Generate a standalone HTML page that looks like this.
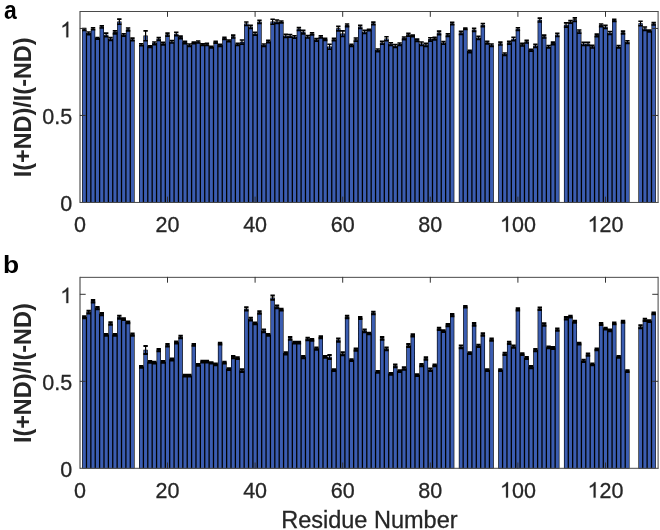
<!DOCTYPE html><html><head><meta charset="utf-8"><style>html,body{margin:0;padding:0;background:#fff;}body{width:660px;height:530px;overflow:hidden;}svg{display:block;}text{font-family:"Liberation Sans",sans-serif;}</style></head><body>
<svg width="660" height="530" viewBox="0 0 660 530" style="will-change:transform">
<rect x="0" y="0" width="660" height="530" fill="#fff"/>
<path d="M82.13 202.75L82.13 29.18L86.47 29.18L86.47 33.05L90.85 33.05L90.85 28.47L95.23 28.47L95.23 38.05L99.61 38.05L99.61 26.68L103.99 26.68L103.99 34.65L108.37 34.65L108.37 38.62L112.75 38.62L112.75 32.11L117.13 32.11L117.13 21.40L121.51 21.40L121.51 34.61L125.89 34.61L125.89 29.18L130.27 29.18L130.27 39.18L134.61 39.18L134.61 202.75ZM139.07 202.75L139.07 44.51L143.41 44.51L143.41 35.55L147.79 35.55L147.79 46.35L152.17 46.35L152.17 42.95L156.55 42.95L156.55 38.62L160.93 38.62L160.93 43.24L165.31 43.24L165.31 34.32L169.69 34.32L169.69 41.45L174.07 41.45L174.07 33.76L178.45 33.76L178.45 37.06L182.83 37.06L182.83 42.11L187.21 42.11L187.21 44.94L191.59 44.94L191.59 42.48L195.97 42.48L195.97 41.68L200.35 41.68L200.35 44.37L204.73 44.37L204.73 44.13L209.11 44.13L209.11 46.73L213.49 46.73L213.49 41.87L217.87 41.87L217.87 45.08L222.25 45.08L222.25 38.00L226.63 38.00L226.63 40.60L231.01 40.60L231.01 36.26L235.39 36.26L235.39 44.13L239.77 44.13L239.77 41.87L244.15 41.87L244.15 23.38L248.53 23.38L248.53 26.59L252.91 26.59L252.91 33.43L257.29 33.43L257.29 21.49L261.67 21.49L261.67 44.94L266.05 44.94L266.05 41.21L270.43 41.21L270.43 21.49L274.81 21.49L274.81 21.40L279.19 21.40L279.19 21.63L283.57 21.63L283.57 35.64L287.95 35.64L287.95 35.64L292.33 35.64L292.33 36.73L296.71 36.73L296.71 28.71L301.09 28.71L301.09 31.87L305.47 31.87L305.47 36.45L309.85 36.45L309.85 33.47L314.23 33.47L314.23 39.56L318.61 39.56L318.61 36.59L322.99 36.59L322.99 39.04L327.37 39.04L327.37 46.49L331.75 46.49L331.75 39.28L336.13 39.28L336.13 28.33L340.51 28.33L340.51 33.43L344.89 33.43L344.89 25.03L349.27 25.03L349.27 45.08L353.65 45.08L353.65 39.32L358.03 39.32L358.03 26.59L362.41 26.59L362.41 31.68L366.79 31.68L366.79 29.65L371.17 29.65L371.17 23.14L375.55 23.14L375.55 50.03L379.93 50.03L379.93 42.44L384.31 42.44L384.31 38.47L388.69 38.47L388.69 43.80L393.07 43.80L393.07 45.69L397.45 45.69L397.45 43.99L401.83 43.99L401.83 38.00L406.21 38.00L406.21 34.37L410.59 34.37L410.59 35.64L414.97 35.64L414.97 39.98L419.35 39.98L419.35 43.43L423.73 43.43L423.73 44.61L428.11 44.61L428.11 39.09L432.49 39.09L432.49 38.33L436.87 38.33L436.87 32.58L441.25 32.58L441.25 42.58L445.63 42.58L445.63 34.94L450.01 34.94L450.01 23.24L454.35 23.24L454.35 202.75ZM458.81 202.75L458.81 32.62L463.15 32.62L463.15 28.43L467.53 28.43L467.53 51.12L471.91 51.12L471.91 29.51L476.29 29.51L476.29 37.53L480.67 37.53L480.67 24.79L485.05 24.79L485.05 42.25L489.43 42.25L489.43 44.94L493.77 44.94L493.77 202.75ZM498.23 202.75L498.23 43.28L502.57 43.28L502.57 53.95L506.95 53.95L506.95 42.34L511.33 42.34L511.33 38.71L515.71 38.71L515.71 28.80L520.09 28.80L520.09 44.37L524.47 44.37L524.47 41.30L528.85 41.30L528.85 49.94L533.23 49.94L533.23 45.55L537.61 45.55L537.61 19.75L541.99 19.75L541.99 36.26L546.37 36.26L546.37 46.40L550.75 46.40L550.75 43.05L555.13 43.05L555.13 34.61L559.47 34.61L559.47 202.75ZM563.93 202.75L563.93 24.70L568.27 24.70L568.27 21.54L572.65 21.54L572.65 19.37L577.03 19.37L577.03 31.30L581.41 31.30L581.41 43.66L585.79 43.66L585.79 43.66L590.17 43.66L590.17 46.35L594.55 46.35L594.55 35.12L598.93 35.12L598.93 25.03L603.31 25.03L603.31 26.68L607.69 26.68L607.69 32.72L612.07 32.72L612.07 20.08L616.45 20.08L616.45 46.40L620.83 46.40L620.83 32.20L625.21 32.20L625.21 41.78L629.55 41.78L629.55 202.75ZM638.39 202.75L638.39 23.14L642.73 23.14L642.73 28.43L647.11 28.43L647.11 30.69L651.49 30.69L651.49 23.52L655.83 23.52L655.83 202.75Z" fill="#000"/>
<g fill="#3b5db1"><rect x="82.73" y="29.78" width="3.10" height="172.37"/><rect x="87.11" y="33.65" width="3.10" height="168.50"/><rect x="91.49" y="29.07" width="3.10" height="173.08"/><rect x="95.87" y="38.65" width="3.10" height="163.50"/><rect x="100.25" y="27.28" width="3.10" height="174.87"/><rect x="104.63" y="35.25" width="3.10" height="166.90"/><rect x="109.01" y="39.22" width="3.10" height="162.93"/><rect x="113.39" y="32.71" width="3.10" height="169.44"/><rect x="117.77" y="22.00" width="3.10" height="180.15"/><rect x="122.15" y="35.21" width="3.10" height="166.94"/><rect x="126.53" y="29.78" width="3.10" height="172.37"/><rect x="130.91" y="39.78" width="3.10" height="162.37"/><rect x="139.67" y="45.11" width="3.10" height="157.04"/><rect x="144.05" y="36.15" width="3.10" height="166.00"/><rect x="148.43" y="46.95" width="3.10" height="155.20"/><rect x="152.81" y="43.55" width="3.10" height="158.60"/><rect x="157.19" y="39.22" width="3.10" height="162.93"/><rect x="161.57" y="43.84" width="3.10" height="158.31"/><rect x="165.95" y="34.92" width="3.10" height="167.23"/><rect x="170.33" y="42.05" width="3.10" height="160.10"/><rect x="174.71" y="34.36" width="3.10" height="167.79"/><rect x="179.09" y="37.66" width="3.10" height="164.49"/><rect x="183.47" y="42.71" width="3.10" height="159.44"/><rect x="187.85" y="45.54" width="3.10" height="156.61"/><rect x="192.23" y="43.08" width="3.10" height="159.07"/><rect x="196.61" y="42.28" width="3.10" height="159.87"/><rect x="200.99" y="44.97" width="3.10" height="157.18"/><rect x="205.37" y="44.73" width="3.10" height="157.42"/><rect x="209.75" y="47.33" width="3.10" height="154.82"/><rect x="214.13" y="42.47" width="3.10" height="159.68"/><rect x="218.51" y="45.68" width="3.10" height="156.47"/><rect x="222.89" y="38.60" width="3.10" height="163.55"/><rect x="227.27" y="41.20" width="3.10" height="160.95"/><rect x="231.65" y="36.86" width="3.10" height="165.29"/><rect x="236.03" y="44.73" width="3.10" height="157.42"/><rect x="240.41" y="42.47" width="3.10" height="159.68"/><rect x="244.79" y="23.98" width="3.10" height="178.17"/><rect x="249.17" y="27.19" width="3.10" height="174.96"/><rect x="253.55" y="34.03" width="3.10" height="168.12"/><rect x="257.93" y="22.09" width="3.10" height="180.06"/><rect x="262.31" y="45.54" width="3.10" height="156.61"/><rect x="266.69" y="41.81" width="3.10" height="160.34"/><rect x="271.07" y="22.09" width="3.10" height="180.06"/><rect x="275.45" y="22.00" width="3.10" height="180.15"/><rect x="279.83" y="22.23" width="3.10" height="179.92"/><rect x="284.21" y="36.24" width="3.10" height="165.91"/><rect x="288.59" y="36.24" width="3.10" height="165.91"/><rect x="292.97" y="37.33" width="3.10" height="164.82"/><rect x="297.35" y="29.31" width="3.10" height="172.84"/><rect x="301.73" y="32.47" width="3.10" height="169.68"/><rect x="306.11" y="37.05" width="3.10" height="165.10"/><rect x="310.49" y="34.07" width="3.10" height="168.08"/><rect x="314.87" y="40.16" width="3.10" height="161.99"/><rect x="319.25" y="37.19" width="3.10" height="164.96"/><rect x="323.63" y="39.64" width="3.10" height="162.51"/><rect x="328.01" y="47.09" width="3.10" height="155.06"/><rect x="332.39" y="39.88" width="3.10" height="162.27"/><rect x="336.77" y="28.93" width="3.10" height="173.22"/><rect x="341.15" y="34.03" width="3.10" height="168.12"/><rect x="345.53" y="25.63" width="3.10" height="176.52"/><rect x="349.91" y="45.68" width="3.10" height="156.47"/><rect x="354.29" y="39.92" width="3.10" height="162.23"/><rect x="358.67" y="27.19" width="3.10" height="174.96"/><rect x="363.05" y="32.28" width="3.10" height="169.87"/><rect x="367.43" y="30.25" width="3.10" height="171.90"/><rect x="371.81" y="23.74" width="3.10" height="178.41"/><rect x="376.19" y="50.63" width="3.10" height="151.52"/><rect x="380.57" y="43.04" width="3.10" height="159.11"/><rect x="384.95" y="39.07" width="3.10" height="163.08"/><rect x="389.33" y="44.40" width="3.10" height="157.75"/><rect x="393.71" y="46.29" width="3.10" height="155.86"/><rect x="398.09" y="44.59" width="3.10" height="157.56"/><rect x="402.47" y="38.60" width="3.10" height="163.55"/><rect x="406.85" y="34.97" width="3.10" height="167.18"/><rect x="411.23" y="36.24" width="3.10" height="165.91"/><rect x="415.61" y="40.58" width="3.10" height="161.57"/><rect x="419.99" y="44.03" width="3.10" height="158.12"/><rect x="424.37" y="45.21" width="3.10" height="156.94"/><rect x="428.75" y="39.69" width="3.10" height="162.46"/><rect x="433.13" y="38.93" width="3.10" height="163.22"/><rect x="437.51" y="33.18" width="3.10" height="168.97"/><rect x="441.89" y="43.18" width="3.10" height="158.97"/><rect x="446.27" y="35.54" width="3.10" height="166.61"/><rect x="450.65" y="23.84" width="3.10" height="178.31"/><rect x="459.41" y="33.22" width="3.10" height="168.93"/><rect x="463.79" y="29.03" width="3.10" height="173.12"/><rect x="468.17" y="51.72" width="3.10" height="150.43"/><rect x="472.55" y="30.11" width="3.10" height="172.04"/><rect x="476.93" y="38.13" width="3.10" height="164.02"/><rect x="481.31" y="25.39" width="3.10" height="176.76"/><rect x="485.69" y="42.85" width="3.10" height="159.30"/><rect x="490.07" y="45.54" width="3.10" height="156.61"/><rect x="498.83" y="43.88" width="3.10" height="158.27"/><rect x="503.21" y="54.55" width="3.10" height="147.60"/><rect x="507.59" y="42.94" width="3.10" height="159.21"/><rect x="511.97" y="39.31" width="3.10" height="162.84"/><rect x="516.35" y="29.40" width="3.10" height="172.75"/><rect x="520.73" y="44.97" width="3.10" height="157.18"/><rect x="525.11" y="41.90" width="3.10" height="160.25"/><rect x="529.49" y="50.54" width="3.10" height="151.61"/><rect x="533.87" y="46.15" width="3.10" height="156.00"/><rect x="538.25" y="20.35" width="3.10" height="181.80"/><rect x="542.63" y="36.86" width="3.10" height="165.29"/><rect x="547.01" y="47.00" width="3.10" height="155.15"/><rect x="551.39" y="43.65" width="3.10" height="158.50"/><rect x="555.77" y="35.21" width="3.10" height="166.94"/><rect x="564.53" y="25.30" width="3.10" height="176.85"/><rect x="568.91" y="22.14" width="3.10" height="180.01"/><rect x="573.29" y="19.97" width="3.10" height="182.18"/><rect x="577.67" y="31.90" width="3.10" height="170.25"/><rect x="582.05" y="44.26" width="3.10" height="157.89"/><rect x="586.43" y="44.26" width="3.10" height="157.89"/><rect x="590.81" y="46.95" width="3.10" height="155.20"/><rect x="595.19" y="35.72" width="3.10" height="166.43"/><rect x="599.57" y="25.63" width="3.10" height="176.52"/><rect x="603.95" y="27.28" width="3.10" height="174.87"/><rect x="608.33" y="33.32" width="3.10" height="168.83"/><rect x="612.71" y="20.68" width="3.10" height="181.47"/><rect x="617.09" y="47.00" width="3.10" height="155.15"/><rect x="621.47" y="32.80" width="3.10" height="169.35"/><rect x="625.85" y="42.38" width="3.10" height="159.77"/><rect x="638.99" y="23.74" width="3.10" height="178.41"/><rect x="643.37" y="29.03" width="3.10" height="173.12"/><rect x="647.75" y="31.29" width="3.10" height="170.86"/><rect x="652.13" y="24.12" width="3.10" height="178.03"/></g>
<path d="M82.08 28.54H86.48M82.08 30.43H86.48M86.46 32.03H90.86M86.46 34.67H90.86M90.84 27.78H95.24M90.84 29.77H95.24M95.22 37.50H99.62M95.22 39.20H99.62M99.60 25.89H104.00M99.60 28.07H104.00M103.98 33.16H108.38M103.98 36.75H108.38M108.36 37.50H112.76M108.36 40.33H112.76M112.74 30.89H117.14M112.74 33.92H117.14M117.12 19.10H121.52M117.12 24.29H121.52M121.50 33.72H125.90M121.50 36.09H125.90M125.88 28.06H130.28M125.88 30.90H130.28M130.26 38.16H134.66M130.26 40.80H134.66M139.02 43.82H143.42M139.02 45.80H143.42M143.40 30.89H147.80M143.40 40.80H147.80M147.78 45.89H152.18M147.78 47.41H152.18M152.16 41.93H156.56M152.16 44.58H156.56M156.54 37.50H160.94M156.54 40.33H160.94M160.92 42.22H165.32M160.92 44.86H165.32M165.30 33.16H169.70M165.30 36.09H169.70M169.68 40.52H174.08M169.68 42.97H174.08M174.06 32.31H178.46M174.06 35.80H178.46M178.44 36.08H182.84M178.44 38.63H182.84M182.82 41.18H187.22M182.82 43.63H187.22M187.20 44.01H191.60M187.20 46.46H191.60M191.58 41.93H195.98M191.58 43.63H195.98M195.96 40.99H200.36M195.96 42.97H200.36M200.34 43.82H204.74M200.34 45.52H204.74M204.72 43.35H209.12M204.72 45.52H209.12M209.10 46.18H213.50M209.10 47.88H213.50M213.48 41.18H217.88M213.48 43.16H217.88M217.86 44.29H222.26M217.86 46.46H222.26M222.24 37.22H226.64M222.24 39.39H226.64M226.62 40.05H231.02M226.62 41.75H231.02M231.00 35.14H235.40M231.00 37.97H235.40M235.38 43.35H239.78M235.38 45.52H239.78M239.76 40.05H244.16M239.76 44.29H244.16M244.14 21.93H248.54M244.14 25.43H248.54M248.52 25.23H252.92M248.52 28.54H252.92M252.90 32.31H257.30M252.90 35.14H257.30M257.28 20.23H261.68M257.28 23.35H261.68M261.66 44.01H266.06M261.66 46.46H266.06M266.04 40.33H270.44M266.04 42.69H270.44M270.42 19.29H274.82M270.42 24.29H274.82M274.80 20.05H279.20M274.80 23.35H279.20M279.18 20.99H283.58M279.18 22.88H283.58M283.56 34.38H287.96M283.56 37.50H287.96M287.94 34.57H292.34M287.94 37.31H292.34M292.32 35.80H296.72M292.32 38.26H296.72M296.70 27.59H301.10M296.70 30.43H301.10M301.08 30.42H305.48M301.08 33.92H305.48M305.46 35.52H309.86M305.46 37.97H309.86M309.84 32.69H314.24M309.84 34.86H314.24M314.22 38.63H318.62M314.22 41.09H318.62M318.60 35.80H323.00M318.60 37.97H323.00M322.98 38.35H327.38M322.98 40.33H327.38M327.36 44.29H331.76M327.36 49.29H331.76M331.74 38.35H336.14M331.74 40.80H336.14M336.12 26.37H340.52M336.12 30.90H340.52M340.50 30.89H344.90M340.50 36.56H344.90M344.88 24.01H349.28M344.88 26.65H349.28M349.26 44.29H353.66M349.26 46.46H353.66M353.64 37.97H358.04M353.64 41.28H358.04M358.02 25.23H362.42M358.02 28.54H362.42M362.40 30.42H366.80M362.40 33.54H366.80M366.78 29.20H371.18M366.78 30.71H371.18M371.16 22.12H375.56M371.16 24.77H375.56M375.54 49.01H379.94M375.54 51.65H379.94M379.92 41.18H384.32M379.92 44.29H384.32M384.30 36.74H388.70M384.30 40.80H388.70M388.68 42.69H393.08M388.68 45.52H393.08M393.06 44.57H397.46M393.06 47.41H397.46M397.44 43.06H401.84M397.44 45.52H401.84M401.82 37.03H406.22M401.82 39.58H406.22M406.20 33.25H410.60M406.20 36.09H410.60M410.58 35.14H414.98M410.58 36.75H414.98M414.96 39.10H419.36M414.96 41.46H419.36M419.34 41.93H423.74M419.34 45.52H423.74M423.72 43.35H428.12M423.72 46.46H428.12M428.10 37.69H432.50M428.10 41.09H432.50M432.48 37.40H436.88M432.48 39.86H436.88M436.86 31.08H441.26M436.86 34.67H441.26M441.24 41.46H445.64M441.24 44.29H445.64M445.62 33.91H450.02M445.62 36.56H450.02M450.00 22.31H454.40M450.00 24.77H454.40M458.76 31.37H463.16M458.76 34.48H463.16M463.14 27.97H467.54M463.14 29.48H467.54M467.52 50.23H471.92M467.52 52.60H471.92M471.90 28.25H476.30M471.90 31.37H476.30M476.28 36.27H480.68M476.28 39.39H480.68M480.66 23.54H485.06M480.66 26.65H485.06M485.04 41.18H489.44M485.04 43.92H489.44M489.42 44.01H493.82M489.42 46.46H493.82M498.18 42.12H502.58M498.18 45.05H502.58M502.56 53.06H506.96M502.56 55.43H506.96M506.94 41.18H511.34M506.94 44.11H511.34M511.32 37.22H515.72M511.32 40.80H515.72M515.70 27.78H520.10M515.70 30.43H520.10M520.08 43.35H524.48M520.08 45.99H524.48M524.46 40.23H528.86M524.46 42.97H528.86M528.84 49.29H533.24M528.84 51.18H533.24M533.22 44.29H537.62M533.22 47.41H537.62M537.60 18.16H542.00M537.60 21.94H542.00M541.98 35.14H546.38M541.98 37.97H546.38M546.36 45.52H550.76M546.36 47.88H550.76M550.74 42.12H555.14M550.74 44.58H555.14M555.12 33.25H559.52M555.12 36.56H559.52M563.88 22.88H568.28M563.88 27.12H568.28M568.26 20.52H572.66M568.26 23.16H572.66M572.64 17.88H577.04M572.64 21.46H577.04M577.02 29.95H581.42M577.02 33.26H581.42M581.40 42.40H585.80M581.40 45.52H585.80M585.78 42.40H590.18M585.78 45.52H590.18M590.16 45.23H594.56M590.16 48.07H594.56M594.54 34.10H598.94M594.54 36.75H598.94M598.92 24.01H603.32M598.92 26.65H603.32M603.30 25.42H607.70M603.30 28.54H607.70M607.68 31.55H612.08M607.68 34.48H612.08M612.06 19.29H616.46M612.06 21.46H616.46M616.44 45.52H620.84M616.44 47.88H620.84M620.82 31.08H625.22M620.82 33.92H625.22M625.20 40.80H629.60M625.20 43.35H629.60M638.34 21.18H642.74M638.34 25.71H642.74M642.72 27.03H647.12M642.72 30.43H647.12M647.10 30.14H651.50M647.10 31.84H651.50M651.48 22.59H655.88M651.48 25.05H655.88" stroke="#000" stroke-width="1.6" fill="none"/>
<path d="M84.28 28.54V30.43M88.66 32.03V34.67M93.04 27.78V29.77M97.42 37.50V39.20M101.80 25.89V28.07M106.18 33.16V36.75M110.56 37.50V40.33M114.94 30.89V33.92M119.32 19.10V24.29M123.70 33.72V36.09M128.08 28.06V30.90M132.46 38.16V40.80M141.22 43.82V45.80M145.60 30.89V40.80M149.98 45.89V47.41M154.36 41.93V44.58M158.74 37.50V40.33M163.12 42.22V44.86M167.50 33.16V36.09M171.88 40.52V42.97M176.26 32.31V35.80M180.64 36.08V38.63M185.02 41.18V43.63M189.40 44.01V46.46M193.78 41.93V43.63M198.16 40.99V42.97M202.54 43.82V45.52M206.92 43.35V45.52M211.30 46.18V47.88M215.68 41.18V43.16M220.06 44.29V46.46M224.44 37.22V39.39M228.82 40.05V41.75M233.20 35.14V37.97M237.58 43.35V45.52M241.96 40.05V44.29M246.34 21.93V25.43M250.72 25.23V28.54M255.10 32.31V35.14M259.48 20.23V23.35M263.86 44.01V46.46M268.24 40.33V42.69M272.62 19.29V24.29M277.00 20.05V23.35M281.38 20.99V22.88M285.76 34.38V37.50M290.14 34.57V37.31M294.52 35.80V38.26M298.90 27.59V30.43M303.28 30.42V33.92M307.66 35.52V37.97M312.04 32.69V34.86M316.42 38.63V41.09M320.80 35.80V37.97M325.18 38.35V40.33M329.56 44.29V49.29M333.94 38.35V40.80M338.32 26.37V30.90M342.70 30.89V36.56M347.08 24.01V26.65M351.46 44.29V46.46M355.84 37.97V41.28M360.22 25.23V28.54M364.60 30.42V33.54M368.98 29.20V30.71M373.36 22.12V24.77M377.74 49.01V51.65M382.12 41.18V44.29M386.50 36.74V40.80M390.88 42.69V45.52M395.26 44.57V47.41M399.64 43.06V45.52M404.02 37.03V39.58M408.40 33.25V36.09M412.78 35.14V36.75M417.16 39.10V41.46M421.54 41.93V45.52M425.92 43.35V46.46M430.30 37.69V41.09M434.68 37.40V39.86M439.06 31.08V34.67M443.44 41.46V44.29M447.82 33.91V36.56M452.20 22.31V24.77M460.96 31.37V34.48M465.34 27.97V29.48M469.72 50.23V52.60M474.10 28.25V31.37M478.48 36.27V39.39M482.86 23.54V26.65M487.24 41.18V43.92M491.62 44.01V46.46M500.38 42.12V45.05M504.76 53.06V55.43M509.14 41.18V44.11M513.52 37.22V40.80M517.90 27.78V30.43M522.28 43.35V45.99M526.66 40.23V42.97M531.04 49.29V51.18M535.42 44.29V47.41M539.80 18.16V21.94M544.18 35.14V37.97M548.56 45.52V47.88M552.94 42.12V44.58M557.32 33.25V36.56M566.08 22.88V27.12M570.46 20.52V23.16M574.84 17.88V21.46M579.22 29.95V33.26M583.60 42.40V45.52M587.98 42.40V45.52M592.36 45.23V48.07M596.74 34.10V36.75M601.12 24.01V26.65M605.50 25.42V28.54M609.88 31.55V34.48M614.26 19.29V21.46M618.64 45.52V47.88M623.02 31.08V33.92M627.40 40.80V43.35M640.54 21.18V25.71M644.92 27.03V30.43M649.30 30.14V31.84M653.68 22.59V25.05" stroke="#000" stroke-width="1.2" fill="none"/>
<path d="M80 11.00V202.95" stroke="#333" stroke-width="1"/>
<path d="M658.1 11.00V202.95" stroke="#444" stroke-width="1"/>
<path d="M80 11.50H658.3M80 202.45H658.3" stroke="#4a4a4a" stroke-width="1"/>
<path d="M167.50 202.45V196.65M167.50 11.05V16.85M255.10 202.45V196.65M255.10 11.05V16.85M342.70 202.45V196.65M342.70 11.05V16.85M430.30 202.45V196.65M430.30 11.05V16.85M517.90 202.45V196.65M517.90 11.05V16.85M605.50 202.45V196.65M605.50 11.05V16.85M79.90 115.45H85.70M658.06 115.45H652.26M79.90 28.45H85.70M658.06 28.45H652.26" stroke="#333" stroke-width="1" fill="none"/>
<text x="73.92" y="231.75" font-size="21.5" fill="#262626" stroke="#262626" stroke-width="0.3">0</text>
<text x="155.54" y="231.75" font-size="21.5" fill="#262626" stroke="#262626" stroke-width="0.3">2</text>
<text x="167.50" y="231.75" font-size="21.5" fill="#262626" stroke="#262626" stroke-width="0.3">0</text>
<text x="243.14" y="231.75" font-size="21.5" fill="#262626" stroke="#262626" stroke-width="0.3">4</text>
<text x="255.10" y="231.75" font-size="21.5" fill="#262626" stroke="#262626" stroke-width="0.3">0</text>
<text x="330.74" y="231.75" font-size="21.5" fill="#262626" stroke="#262626" stroke-width="0.3">6</text>
<text x="342.70" y="231.75" font-size="21.5" fill="#262626" stroke="#262626" stroke-width="0.3">0</text>
<text x="418.34" y="231.75" font-size="21.5" fill="#262626" stroke="#262626" stroke-width="0.3">8</text>
<text x="430.30" y="231.75" font-size="21.5" fill="#262626" stroke="#262626" stroke-width="0.3">0</text>
<path transform="translate(499.96 231.75) scale(0.01050 -0.01050)" d="M763 0H583V1147Q518 1085 412.5 1023T223 930V1104Q373 1175 485.5 1276T645 1472H763V0Z" fill="#262626" stroke="#262626" stroke-width="28.6"/>
<text x="511.92" y="231.75" font-size="21.5" fill="#262626" stroke="#262626" stroke-width="0.3">0</text>
<text x="523.88" y="231.75" font-size="21.5" fill="#262626" stroke="#262626" stroke-width="0.3">0</text>
<path transform="translate(587.56 231.75) scale(0.01050 -0.01050)" d="M763 0H583V1147Q518 1085 412.5 1023T223 930V1104Q373 1175 485.5 1276T645 1472H763V0Z" fill="#262626" stroke="#262626" stroke-width="28.6"/>
<text x="599.52" y="231.75" font-size="21.5" fill="#262626" stroke="#262626" stroke-width="0.3">2</text>
<text x="611.48" y="231.75" font-size="21.5" fill="#262626" stroke="#262626" stroke-width="0.3">0</text>
<text x="60.24" y="211.25" font-size="21.5" fill="#262626" stroke="#262626" stroke-width="0.3">0</text>
<text x="42.31" y="124.25" font-size="21.5" fill="#262626" stroke="#262626" stroke-width="0.3">0</text>
<text x="54.27" y="124.25" font-size="21.5" fill="#262626" stroke="#262626" stroke-width="0.3">.</text>
<text x="60.24" y="124.25" font-size="21.5" fill="#262626" stroke="#262626" stroke-width="0.3">5</text>
<path transform="translate(60.24 37.25) scale(0.01050 -0.01050)" d="M763 0H583V1147Q518 1085 412.5 1023T223 930V1104Q373 1175 485.5 1276T645 1472H763V0Z" fill="#262626" stroke="#262626" stroke-width="28.6"/>
<text transform="translate(31.2 107.35) rotate(-90) scale(1.01 1)" x="0" y="0" font-size="23.2" font-weight="bold" fill="#262626" text-anchor="middle">I(+ND)/I(-ND)</text>
<text transform="translate(4.03 18.65) scale(0.9 1)" x="0" y="0" font-size="25.5" font-weight="bold" fill="#000">a</text>
<path d="M82.13 468.60L82.13 316.95L86.47 316.95L86.47 311.76L90.85 311.76L90.85 300.91L95.23 300.91L95.23 307.79L99.61 307.79L99.61 313.83L103.99 313.83L103.99 334.49L108.37 334.49L108.37 323.17L112.75 323.17L112.75 334.49L117.13 334.49L117.13 316.95L121.51 316.95L121.51 318.83L125.89 318.83L125.89 322.04L130.27 322.04L130.27 334.30L134.61 334.30L134.61 468.60ZM139.07 468.60L139.07 366.57L143.41 366.57L143.41 349.68L147.79 349.68L147.79 361.66L152.17 361.66L152.17 362.23L156.55 362.23L156.55 349.78L160.93 349.78L160.93 361.66L165.31 361.66L165.31 344.96L169.69 344.96L169.69 359.21L174.07 359.21L174.07 342.23L178.45 342.23L178.45 336.76L182.83 336.76L182.83 375.44L187.21 375.44L187.21 375.44L191.59 375.44L191.59 344.68L195.97 344.68L195.97 364.68L200.35 364.68L200.35 361.28L204.73 361.28L204.73 361.28L209.11 361.28L209.11 362.51L213.49 362.51L213.49 364.12L217.87 364.12L217.87 343.36L222.25 343.36L222.25 362.23L226.63 362.23L226.63 368.83L231.01 368.83L231.01 356.85L235.39 356.85L235.39 357.89L239.77 357.89L239.77 370.25L244.15 370.25L244.15 308.64L248.53 308.64L248.53 318.83L252.91 318.83L252.91 323.17L257.29 323.17L257.29 312.23L261.67 312.23L261.67 330.62L266.05 330.62L266.05 334.49L270.43 334.49L270.43 297.42L274.81 297.42L274.81 306.57L279.19 306.57L279.19 309.40L283.57 309.40L283.57 353.08L287.95 353.08L287.95 338.17L292.33 338.17L292.33 342.42L296.71 342.42L296.71 342.42L301.09 342.42L301.09 356.85L305.47 356.85L305.47 338.64L309.85 338.64L309.85 339.59L314.23 339.59L314.23 348.27L318.61 348.27L318.61 336.95L322.99 336.95L322.99 356.57L327.37 356.57L327.37 356.76L331.75 356.76L331.75 369.78L336.13 369.78L336.13 339.78L340.51 339.78L340.51 353.45L344.89 353.45L344.89 316.66L349.27 316.66L349.27 359.78L353.65 359.78L353.65 349.30L358.03 349.30L358.03 317.70L362.41 317.70L362.41 330.62L366.79 330.62L366.79 333.17L371.17 333.17L371.17 312.70L375.55 312.70L375.55 371.66L379.93 371.66L379.93 338.17L384.31 338.17L384.31 348.55L388.69 348.55L388.69 373.55L393.07 373.55L393.07 365.53L397.45 365.53L397.45 370.72L401.83 370.72L401.83 368.17L406.21 368.17L406.21 345.25L410.59 345.25L410.59 335.06L414.97 335.06L414.97 374.87L419.35 374.87L419.35 364.87L423.73 364.87L423.73 358.17L428.11 358.17L428.11 369.49L432.49 369.49L432.49 365.06L436.87 365.06L436.87 328.55L441.25 328.55L441.25 330.72L445.63 330.72L445.63 324.78L450.01 324.78L450.01 314.78L454.35 314.78L454.35 468.60ZM458.81 468.60L458.81 346.66L463.15 346.66L463.15 306.38L467.53 306.38L467.53 352.79L471.91 352.79L471.91 324.02L476.29 324.02L476.29 345.53L480.67 345.53L480.67 334.21L485.05 334.21L485.05 369.78L489.43 369.78L489.43 339.30L493.77 339.30L493.77 468.60ZM498.23 468.60L498.23 369.78L502.57 369.78L502.57 353.55L506.95 353.55L506.95 342.61L511.33 342.61L511.33 346.38L515.71 346.38L515.71 309.12L520.09 309.12L520.09 353.74L524.47 353.74L524.47 357.70L528.85 357.70L528.85 366.76L533.23 366.76L533.23 349.78L537.61 349.78L537.61 308.45L541.99 308.45L541.99 324.21L546.37 324.21L546.37 347.13L550.75 347.13L550.75 347.70L555.13 347.70L555.13 329.40L559.47 329.40L559.47 468.60ZM563.93 468.60L563.93 317.89L568.27 317.89L568.27 316.38L572.65 316.38L572.65 321.47L577.03 321.47L577.03 343.36L581.41 343.36L581.41 360.62L585.79 360.62L585.79 354.40L590.17 354.40L590.17 364.12L594.55 364.12L594.55 349.02L598.93 349.02L598.93 323.74L603.31 323.74L603.31 328.27L607.69 328.27L607.69 330.15L612.07 330.15L612.07 323.17L616.45 323.17L616.45 356.57L620.83 356.57L620.83 321.47L625.21 321.47L625.21 370.72L629.55 370.72L629.55 468.60ZM638.39 468.60L638.39 326.38L642.73 326.38L642.73 319.59L647.11 319.59L647.11 320.72L651.49 320.72L651.49 313.17L655.83 313.17L655.83 468.60Z" fill="#000"/>
<g fill="#3b5db1"><rect x="82.73" y="317.55" width="3.10" height="150.45"/><rect x="87.11" y="312.36" width="3.10" height="155.64"/><rect x="91.49" y="301.51" width="3.10" height="166.49"/><rect x="95.87" y="308.39" width="3.10" height="159.61"/><rect x="100.25" y="314.43" width="3.10" height="153.57"/><rect x="104.63" y="335.09" width="3.10" height="132.91"/><rect x="109.01" y="323.77" width="3.10" height="144.23"/><rect x="113.39" y="335.09" width="3.10" height="132.91"/><rect x="117.77" y="317.55" width="3.10" height="150.45"/><rect x="122.15" y="319.43" width="3.10" height="148.57"/><rect x="126.53" y="322.64" width="3.10" height="145.36"/><rect x="130.91" y="334.90" width="3.10" height="133.10"/><rect x="139.67" y="367.17" width="3.10" height="100.83"/><rect x="144.05" y="350.28" width="3.10" height="117.72"/><rect x="148.43" y="362.26" width="3.10" height="105.74"/><rect x="152.81" y="362.83" width="3.10" height="105.17"/><rect x="157.19" y="350.38" width="3.10" height="117.62"/><rect x="161.57" y="362.26" width="3.10" height="105.74"/><rect x="165.95" y="345.56" width="3.10" height="122.44"/><rect x="170.33" y="359.81" width="3.10" height="108.19"/><rect x="174.71" y="342.83" width="3.10" height="125.17"/><rect x="179.09" y="337.36" width="3.10" height="130.64"/><rect x="183.47" y="376.04" width="3.10" height="91.96"/><rect x="187.85" y="376.04" width="3.10" height="91.96"/><rect x="192.23" y="345.28" width="3.10" height="122.72"/><rect x="196.61" y="365.28" width="3.10" height="102.72"/><rect x="200.99" y="361.88" width="3.10" height="106.12"/><rect x="205.37" y="361.88" width="3.10" height="106.12"/><rect x="209.75" y="363.11" width="3.10" height="104.89"/><rect x="214.13" y="364.72" width="3.10" height="103.28"/><rect x="218.51" y="343.96" width="3.10" height="124.04"/><rect x="222.89" y="362.83" width="3.10" height="105.17"/><rect x="227.27" y="369.43" width="3.10" height="98.57"/><rect x="231.65" y="357.45" width="3.10" height="110.55"/><rect x="236.03" y="358.49" width="3.10" height="109.51"/><rect x="240.41" y="370.85" width="3.10" height="97.15"/><rect x="244.79" y="309.24" width="3.10" height="158.76"/><rect x="249.17" y="319.43" width="3.10" height="148.57"/><rect x="253.55" y="323.77" width="3.10" height="144.23"/><rect x="257.93" y="312.83" width="3.10" height="155.17"/><rect x="262.31" y="331.22" width="3.10" height="136.78"/><rect x="266.69" y="335.09" width="3.10" height="132.91"/><rect x="271.07" y="298.02" width="3.10" height="169.98"/><rect x="275.45" y="307.17" width="3.10" height="160.83"/><rect x="279.83" y="310.00" width="3.10" height="158.00"/><rect x="284.21" y="353.68" width="3.10" height="114.32"/><rect x="288.59" y="338.77" width="3.10" height="129.23"/><rect x="292.97" y="343.02" width="3.10" height="124.98"/><rect x="297.35" y="343.02" width="3.10" height="124.98"/><rect x="301.73" y="357.45" width="3.10" height="110.55"/><rect x="306.11" y="339.24" width="3.10" height="128.76"/><rect x="310.49" y="340.19" width="3.10" height="127.81"/><rect x="314.87" y="348.87" width="3.10" height="119.13"/><rect x="319.25" y="337.55" width="3.10" height="130.45"/><rect x="323.63" y="357.17" width="3.10" height="110.83"/><rect x="328.01" y="357.36" width="3.10" height="110.64"/><rect x="332.39" y="370.38" width="3.10" height="97.62"/><rect x="336.77" y="340.38" width="3.10" height="127.62"/><rect x="341.15" y="354.05" width="3.10" height="113.95"/><rect x="345.53" y="317.26" width="3.10" height="150.74"/><rect x="349.91" y="360.38" width="3.10" height="107.62"/><rect x="354.29" y="349.90" width="3.10" height="118.10"/><rect x="358.67" y="318.30" width="3.10" height="149.70"/><rect x="363.05" y="331.22" width="3.10" height="136.78"/><rect x="367.43" y="333.77" width="3.10" height="134.23"/><rect x="371.81" y="313.30" width="3.10" height="154.70"/><rect x="376.19" y="372.26" width="3.10" height="95.74"/><rect x="380.57" y="338.77" width="3.10" height="129.23"/><rect x="384.95" y="349.15" width="3.10" height="118.85"/><rect x="389.33" y="374.15" width="3.10" height="93.85"/><rect x="393.71" y="366.13" width="3.10" height="101.87"/><rect x="398.09" y="371.32" width="3.10" height="96.68"/><rect x="402.47" y="368.77" width="3.10" height="99.23"/><rect x="406.85" y="345.85" width="3.10" height="122.15"/><rect x="411.23" y="335.66" width="3.10" height="132.34"/><rect x="415.61" y="375.47" width="3.10" height="92.53"/><rect x="419.99" y="365.47" width="3.10" height="102.53"/><rect x="424.37" y="358.77" width="3.10" height="109.23"/><rect x="428.75" y="370.09" width="3.10" height="97.91"/><rect x="433.13" y="365.66" width="3.10" height="102.34"/><rect x="437.51" y="329.15" width="3.10" height="138.85"/><rect x="441.89" y="331.32" width="3.10" height="136.68"/><rect x="446.27" y="325.38" width="3.10" height="142.62"/><rect x="450.65" y="315.38" width="3.10" height="152.62"/><rect x="459.41" y="347.26" width="3.10" height="120.74"/><rect x="463.79" y="306.98" width="3.10" height="161.02"/><rect x="468.17" y="353.39" width="3.10" height="114.61"/><rect x="472.55" y="324.62" width="3.10" height="143.38"/><rect x="476.93" y="346.13" width="3.10" height="121.87"/><rect x="481.31" y="334.81" width="3.10" height="133.19"/><rect x="485.69" y="370.38" width="3.10" height="97.62"/><rect x="490.07" y="339.90" width="3.10" height="128.10"/><rect x="498.83" y="370.38" width="3.10" height="97.62"/><rect x="503.21" y="354.15" width="3.10" height="113.85"/><rect x="507.59" y="343.21" width="3.10" height="124.79"/><rect x="511.97" y="346.98" width="3.10" height="121.02"/><rect x="516.35" y="309.72" width="3.10" height="158.28"/><rect x="520.73" y="354.34" width="3.10" height="113.66"/><rect x="525.11" y="358.30" width="3.10" height="109.70"/><rect x="529.49" y="367.36" width="3.10" height="100.64"/><rect x="533.87" y="350.38" width="3.10" height="117.62"/><rect x="538.25" y="309.05" width="3.10" height="158.95"/><rect x="542.63" y="324.81" width="3.10" height="143.19"/><rect x="547.01" y="347.73" width="3.10" height="120.27"/><rect x="551.39" y="348.30" width="3.10" height="119.70"/><rect x="555.77" y="330.00" width="3.10" height="138.00"/><rect x="564.53" y="318.49" width="3.10" height="149.51"/><rect x="568.91" y="316.98" width="3.10" height="151.02"/><rect x="573.29" y="322.07" width="3.10" height="145.93"/><rect x="577.67" y="343.96" width="3.10" height="124.04"/><rect x="582.05" y="361.22" width="3.10" height="106.78"/><rect x="586.43" y="355.00" width="3.10" height="113.00"/><rect x="590.81" y="364.72" width="3.10" height="103.28"/><rect x="595.19" y="349.62" width="3.10" height="118.38"/><rect x="599.57" y="324.34" width="3.10" height="143.66"/><rect x="603.95" y="328.87" width="3.10" height="139.13"/><rect x="608.33" y="330.75" width="3.10" height="137.25"/><rect x="612.71" y="323.77" width="3.10" height="144.23"/><rect x="617.09" y="357.17" width="3.10" height="110.83"/><rect x="621.47" y="322.07" width="3.10" height="145.93"/><rect x="625.85" y="371.32" width="3.10" height="96.68"/><rect x="638.99" y="326.98" width="3.10" height="141.02"/><rect x="643.37" y="320.19" width="3.10" height="147.81"/><rect x="647.75" y="321.32" width="3.10" height="146.68"/><rect x="652.13" y="313.77" width="3.10" height="154.23"/></g>
<path d="M82.08 316.36H86.48M82.08 318.13H86.48M86.46 310.70H90.86M86.46 313.42H90.86M90.84 299.94H95.24M90.84 302.47H95.24M95.22 306.92H99.62M95.22 309.26H99.62M99.60 312.96H104.00M99.60 315.30H104.00M103.98 333.91H108.38M103.98 335.68H108.38M108.36 322.21H112.76M108.36 324.74H112.76M112.74 333.91H117.14M112.74 335.68H117.14M117.12 315.79H121.52M117.12 318.70H121.52M121.50 318.25H125.90M121.50 320.02H125.90M125.88 321.45H130.28M125.88 323.23H130.28M130.26 333.53H134.66M130.26 335.68H134.66M139.02 365.98H143.42M139.02 367.75H143.42M143.40 345.98H147.80M143.40 353.98H147.80M147.78 361.08H152.18M147.78 362.85H152.18M152.16 361.64H156.56M152.16 363.42H156.56M156.54 349.00H160.94M156.54 351.15H160.94M160.92 361.08H165.32M160.92 362.85H165.32M165.30 344.09H169.70M165.30 346.43H169.70M169.68 358.43H174.08M169.68 360.58H174.08M174.06 341.45H178.46M174.06 343.60H178.46M178.44 335.79H182.84M178.44 338.32H182.84M182.82 374.85H187.22M182.82 376.62H187.22M187.20 374.85H191.60M187.20 376.62H191.60M191.58 344.09H195.98M191.58 345.87H195.98M195.96 364.09H200.36M195.96 365.87H200.36M200.34 360.70H204.74M200.34 362.47H204.74M204.72 360.70H209.12M204.72 362.47H209.12M209.10 362.21H213.50M209.10 363.42H213.50M213.48 363.53H217.88M213.48 365.30H217.88M217.86 342.77H222.26M217.86 344.55H222.26M222.24 361.64H226.64M222.24 363.42H226.64M226.62 368.25H231.02M226.62 370.02H231.02M231.00 355.98H235.40M231.00 358.32H235.40M235.38 357.30H239.78M235.38 359.08H239.78M239.76 369.19H244.16M239.76 371.91H244.16M244.14 307.30H248.54M244.14 310.58H248.54M248.52 317.68H252.92M248.52 320.58H252.92M252.90 322.58H257.30M252.90 324.36H257.30M257.28 311.26H261.68M257.28 313.79H261.68M261.66 329.57H266.06M261.66 332.28H266.06M266.04 333.91H270.44M266.04 335.68H270.44M270.42 295.60H274.82M270.42 299.83H274.82M274.80 305.60H279.20M274.80 308.13H279.20M279.18 308.81H283.58M279.18 310.58H283.58M283.56 352.21H287.96M283.56 354.55H287.96M287.94 337.11H292.34M287.94 339.83H292.34M292.32 341.83H296.72M292.32 343.60H296.72M296.70 341.83H301.10M296.70 343.60H301.10M301.08 355.98H305.48M301.08 358.32H305.48M305.46 337.68H309.86M305.46 340.21H309.86M309.84 339.00H314.24M309.84 340.77H314.24M314.22 347.49H318.62M314.22 349.64H318.62M318.60 336.17H323.00M318.60 338.32H323.00M322.98 355.98H327.38M322.98 357.75H327.38M327.36 355.04H331.76M327.36 359.08H331.76M331.74 369.19H336.14M331.74 370.96H336.14M336.12 338.43H340.52M336.12 341.72H340.52M340.50 352.21H344.90M340.50 355.30H344.90M344.88 315.79H349.28M344.88 318.13H349.28M349.26 359.19H353.66M349.26 360.96H353.66M353.64 348.43H358.04M353.64 350.77H358.04M358.02 316.92H362.42M358.02 319.08H362.42M362.40 329.57H366.80M362.40 332.28H366.80M366.78 332.77H371.18M366.78 334.17H371.18M371.16 311.64H375.56M371.16 314.36H375.56M375.54 371.08H379.94M375.54 372.85H379.94M379.92 337.11H384.32M379.92 339.83H384.32M384.30 347.49H388.70M384.30 350.21H388.70M388.68 372.96H393.08M388.68 374.74H393.08M393.06 364.47H397.46M393.06 367.19H397.46M397.44 370.13H401.84M397.44 371.91H401.84M401.82 367.30H406.22M401.82 369.64H406.22M406.20 344.09H410.60M406.20 347.00H410.60M410.58 334.28H414.98M410.58 336.43H414.98M414.96 374.28H419.36M414.96 376.06H419.36M419.34 364.09H423.74M419.34 366.25H423.74M423.72 357.30H428.12M423.72 359.64H428.12M428.10 368.62H432.50M428.10 370.96H432.50M432.48 364.47H436.88M432.48 366.25H436.88M436.86 327.68H441.26M436.86 330.02H441.26M441.24 330.13H445.64M441.24 331.91H445.64M445.62 323.91H450.02M445.62 326.25H450.02M450.00 313.91H454.40M450.00 316.25H454.40M458.76 345.60H463.16M458.76 348.32H463.16M463.14 305.98H467.54M463.14 307.38H467.54M467.52 352.21H471.92M467.52 353.98H471.92M471.90 322.96H476.30M471.90 325.68H476.30M476.28 344.66H480.68M476.28 347.00H480.68M480.66 333.34H485.06M480.66 335.68H485.06M485.04 369.19H489.44M485.04 370.96H489.44M489.42 338.43H493.82M489.42 340.77H493.82M498.18 369.19H502.58M498.18 370.96H502.58M502.56 352.77H506.96M502.56 354.92H506.96M506.94 341.83H511.34M506.94 343.98H511.34M511.32 345.60H515.72M511.32 347.75H515.72M515.70 308.25H520.10M515.70 310.58H520.10M520.08 353.15H524.48M520.08 354.92H524.48M524.46 356.92H528.86M524.46 359.08H528.86M528.84 365.98H533.24M528.84 368.13H533.24M533.22 349.00H537.62M533.22 351.15H537.62M537.60 307.49H542.00M537.60 310.02H542.00M541.98 323.34H546.38M541.98 325.68H546.38M546.36 346.55H550.76M546.36 348.32H550.76M550.74 347.11H555.14M550.74 348.89H555.14M555.12 328.62H559.52M555.12 330.77H559.52M563.88 316.92H568.28M563.88 319.45H568.28M568.26 315.79H572.66M568.26 317.57H572.66M572.64 320.70H577.04M572.64 322.85H577.04M577.02 342.77H581.42M577.02 344.55H581.42M581.40 359.75H585.80M581.40 362.09H585.80M585.78 353.53H590.18M585.78 355.87H590.18M590.16 363.53H594.56M590.16 365.30H594.56M594.54 348.43H598.94M594.54 350.21H598.94M598.92 322.96H603.32M598.92 325.11H603.32M603.30 327.68H607.70M603.30 329.45H607.70M607.68 329.57H612.08M607.68 331.34H612.08M612.06 322.58H616.46M612.06 324.36H616.46M616.44 355.98H620.84M616.44 357.75H620.84M620.82 320.70H625.22M620.82 322.85H625.22M625.20 370.13H629.60M625.20 371.91H629.60M638.34 325.23H642.74M638.34 328.13H642.74M642.72 318.81H647.12M642.72 320.96H647.12M647.10 320.13H651.50M647.10 321.91H651.50M651.48 312.58H655.88M651.48 314.36H655.88" stroke="#000" stroke-width="2.0" fill="none"/>
<path d="M84.28 316.36V318.13M88.66 310.70V313.42M93.04 299.94V302.47M97.42 306.92V309.26M101.80 312.96V315.30M106.18 333.91V335.68M110.56 322.21V324.74M114.94 333.91V335.68M119.32 315.79V318.70M123.70 318.25V320.02M128.08 321.45V323.23M132.46 333.53V335.68M141.22 365.98V367.75M145.60 345.98V353.98M149.98 361.08V362.85M154.36 361.64V363.42M158.74 349.00V351.15M163.12 361.08V362.85M167.50 344.09V346.43M171.88 358.43V360.58M176.26 341.45V343.60M180.64 335.79V338.32M185.02 374.85V376.62M189.40 374.85V376.62M193.78 344.09V345.87M198.16 364.09V365.87M202.54 360.70V362.47M206.92 360.70V362.47M211.30 362.21V363.42M215.68 363.53V365.30M220.06 342.77V344.55M224.44 361.64V363.42M228.82 368.25V370.02M233.20 355.98V358.32M237.58 357.30V359.08M241.96 369.19V371.91M246.34 307.30V310.58M250.72 317.68V320.58M255.10 322.58V324.36M259.48 311.26V313.79M263.86 329.57V332.28M268.24 333.91V335.68M272.62 295.60V299.83M277.00 305.60V308.13M281.38 308.81V310.58M285.76 352.21V354.55M290.14 337.11V339.83M294.52 341.83V343.60M298.90 341.83V343.60M303.28 355.98V358.32M307.66 337.68V340.21M312.04 339.00V340.77M316.42 347.49V349.64M320.80 336.17V338.32M325.18 355.98V357.75M329.56 355.04V359.08M333.94 369.19V370.96M338.32 338.43V341.72M342.70 352.21V355.30M347.08 315.79V318.13M351.46 359.19V360.96M355.84 348.43V350.77M360.22 316.92V319.08M364.60 329.57V332.28M368.98 332.77V334.17M373.36 311.64V314.36M377.74 371.08V372.85M382.12 337.11V339.83M386.50 347.49V350.21M390.88 372.96V374.74M395.26 364.47V367.19M399.64 370.13V371.91M404.02 367.30V369.64M408.40 344.09V347.00M412.78 334.28V336.43M417.16 374.28V376.06M421.54 364.09V366.25M425.92 357.30V359.64M430.30 368.62V370.96M434.68 364.47V366.25M439.06 327.68V330.02M443.44 330.13V331.91M447.82 323.91V326.25M452.20 313.91V316.25M460.96 345.60V348.32M465.34 305.98V307.38M469.72 352.21V353.98M474.10 322.96V325.68M478.48 344.66V347.00M482.86 333.34V335.68M487.24 369.19V370.96M491.62 338.43V340.77M500.38 369.19V370.96M504.76 352.77V354.92M509.14 341.83V343.98M513.52 345.60V347.75M517.90 308.25V310.58M522.28 353.15V354.92M526.66 356.92V359.08M531.04 365.98V368.13M535.42 349.00V351.15M539.80 307.49V310.02M544.18 323.34V325.68M548.56 346.55V348.32M552.94 347.11V348.89M557.32 328.62V330.77M566.08 316.92V319.45M570.46 315.79V317.57M574.84 320.70V322.85M579.22 342.77V344.55M583.60 359.75V362.09M587.98 353.53V355.87M592.36 363.53V365.30M596.74 348.43V350.21M601.12 322.96V325.11M605.50 327.68V329.45M609.88 329.57V331.34M614.26 322.58V324.36M618.64 355.98V357.75M623.02 320.70V322.85M627.40 370.13V371.91M640.54 325.23V328.13M644.92 318.81V320.96M649.30 320.13V321.91M653.68 312.58V314.36" stroke="#000" stroke-width="1.2" fill="none"/>
<path d="M80 276.85V468.80" stroke="#333" stroke-width="1"/>
<path d="M658.1 276.85V468.80" stroke="#444" stroke-width="1"/>
<path d="M80 277.35H658.3M80 468.30H658.3" stroke="#4a4a4a" stroke-width="1"/>
<path d="M167.50 468.30V462.50M167.50 276.90V282.70M255.10 468.30V462.50M255.10 276.90V282.70M342.70 468.30V462.50M342.70 276.90V282.70M430.30 468.30V462.50M430.30 276.90V282.70M517.90 468.30V462.50M517.90 276.90V282.70M605.50 468.30V462.50M605.50 276.90V282.70M79.90 381.30H85.70M658.06 381.30H652.26M79.90 294.30H85.70M658.06 294.30H652.26" stroke="#333" stroke-width="1" fill="none"/>
<text x="73.92" y="497.60" font-size="21.5" fill="#262626" stroke="#262626" stroke-width="0.3">0</text>
<text x="155.54" y="497.60" font-size="21.5" fill="#262626" stroke="#262626" stroke-width="0.3">2</text>
<text x="167.50" y="497.60" font-size="21.5" fill="#262626" stroke="#262626" stroke-width="0.3">0</text>
<text x="243.14" y="497.60" font-size="21.5" fill="#262626" stroke="#262626" stroke-width="0.3">4</text>
<text x="255.10" y="497.60" font-size="21.5" fill="#262626" stroke="#262626" stroke-width="0.3">0</text>
<text x="330.74" y="497.60" font-size="21.5" fill="#262626" stroke="#262626" stroke-width="0.3">6</text>
<text x="342.70" y="497.60" font-size="21.5" fill="#262626" stroke="#262626" stroke-width="0.3">0</text>
<text x="418.34" y="497.60" font-size="21.5" fill="#262626" stroke="#262626" stroke-width="0.3">8</text>
<text x="430.30" y="497.60" font-size="21.5" fill="#262626" stroke="#262626" stroke-width="0.3">0</text>
<path transform="translate(499.96 497.60) scale(0.01050 -0.01050)" d="M763 0H583V1147Q518 1085 412.5 1023T223 930V1104Q373 1175 485.5 1276T645 1472H763V0Z" fill="#262626" stroke="#262626" stroke-width="28.6"/>
<text x="511.92" y="497.60" font-size="21.5" fill="#262626" stroke="#262626" stroke-width="0.3">0</text>
<text x="523.88" y="497.60" font-size="21.5" fill="#262626" stroke="#262626" stroke-width="0.3">0</text>
<path transform="translate(587.56 497.60) scale(0.01050 -0.01050)" d="M763 0H583V1147Q518 1085 412.5 1023T223 930V1104Q373 1175 485.5 1276T645 1472H763V0Z" fill="#262626" stroke="#262626" stroke-width="28.6"/>
<text x="599.52" y="497.60" font-size="21.5" fill="#262626" stroke="#262626" stroke-width="0.3">2</text>
<text x="611.48" y="497.60" font-size="21.5" fill="#262626" stroke="#262626" stroke-width="0.3">0</text>
<text x="60.24" y="477.10" font-size="21.5" fill="#262626" stroke="#262626" stroke-width="0.3">0</text>
<text x="42.31" y="390.10" font-size="21.5" fill="#262626" stroke="#262626" stroke-width="0.3">0</text>
<text x="54.27" y="390.10" font-size="21.5" fill="#262626" stroke="#262626" stroke-width="0.3">.</text>
<text x="60.24" y="390.10" font-size="21.5" fill="#262626" stroke="#262626" stroke-width="0.3">5</text>
<path transform="translate(60.24 303.10) scale(0.01050 -0.01050)" d="M763 0H583V1147Q518 1085 412.5 1023T223 930V1104Q373 1175 485.5 1276T645 1472H763V0Z" fill="#262626" stroke="#262626" stroke-width="28.6"/>
<text transform="translate(31.2 373.20) rotate(-90) scale(1.01 1)" x="0" y="0" font-size="23.2" font-weight="bold" fill="#262626" text-anchor="middle">I(+ND)/I(-ND)</text>
<text transform="translate(3.06 272.65) scale(1.07 1)" x="0" y="0" font-size="24.7" font-weight="bold" fill="#000">b</text>
<text transform="translate(369.4 528.3) scale(0.98 1)" x="0" y="0" font-size="24" fill="#262626" stroke="#262626" stroke-width="0.3" text-anchor="middle">Residue Number</text>
</svg></body></html>
